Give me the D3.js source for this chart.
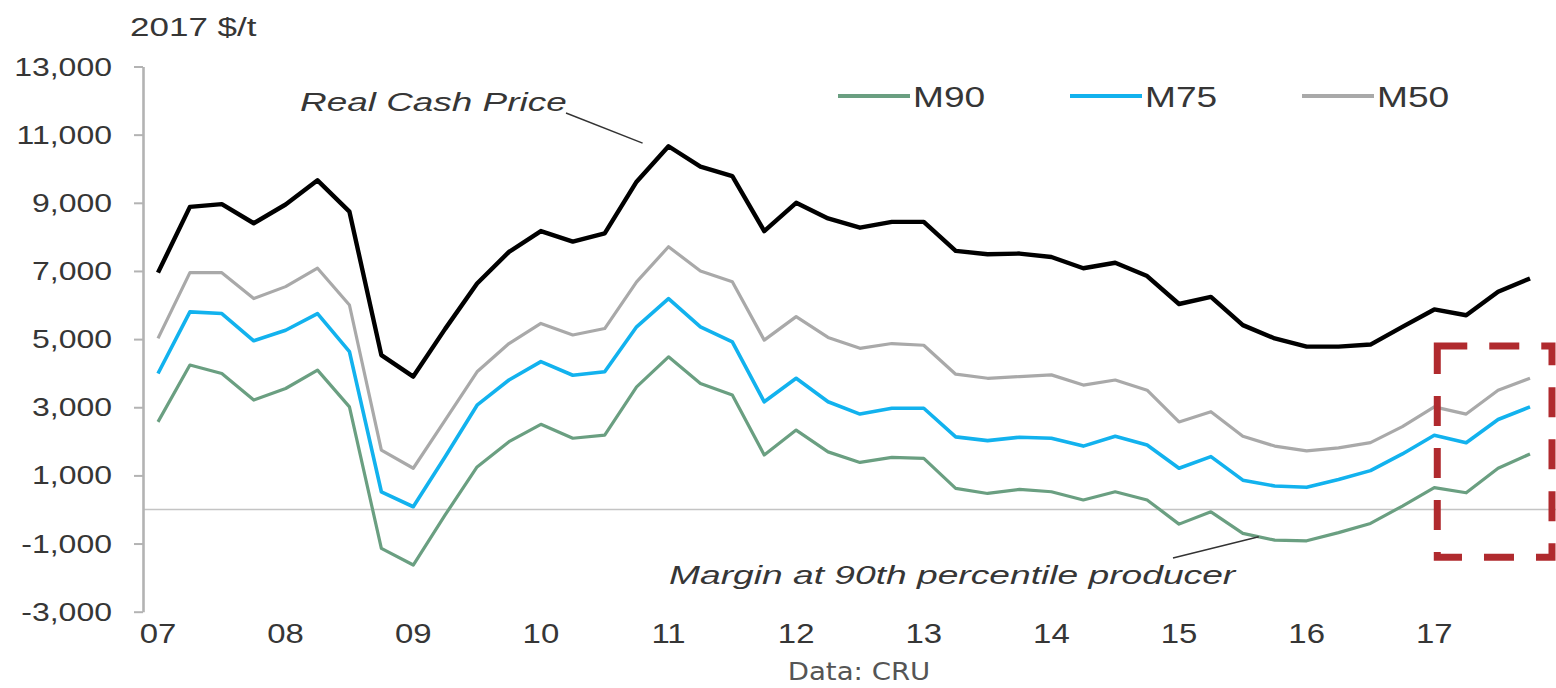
<!DOCTYPE html>
<html>
<head>
<meta charset="utf-8">
<script src="https://cdn.jsdelivr.net/npm/d3@7"></script>
<style>
  html, body { margin: 0; padding: 0; background: #fff; }
  svg { display: block; }
  text { font-family: "Liberation Sans", Arial, sans-serif; }
</style>
</head>
<body>
<svg id="chart" width="1556" height="688"></svg>
<script>
// ---------------- data ----------------
const quarters = [];
["07","08","09","10","11","12","13","14","15","16","17"].forEach(y => {
  ["Q1","Q2","Q3","Q4"].forEach(q => quarters.push(y + q));
});
const yearLabels = ["07","08","09","10","11","12","13","14","15","16","17"];
const yTicks = [-3000, -1000, 1000, 3000, 5000, 7000, 9000, 11000, 13000];

const realCashPrice = [6950, 8880, 8960, 8400, 8950, 9660, 8740, 4530, 3900, 5300, 6630, 7560,
  8170, 7860, 8100, 9620, 10660, 10060, 9780, 8170, 9000, 8540, 8270, 8440,
  8440, 7590, 7490, 7510, 7410, 7080, 7240, 6850, 6030, 6240, 5410, 5020,
  4780, 4780, 4840, 5360, 5870, 5700, 6390, 6780];
const m50 = [5020, 6950, 6950, 6190, 6540, 7080, 6000, 1740, 1210, 2620, 4040, 4870,
  5460, 5120, 5310, 6680, 7710, 7000, 6680, 4970, 5660, 5050, 4730, 4870,
  4820, 3970, 3850, 3900, 3950, 3650, 3800, 3500, 2570, 2870, 2150, 1860,
  1720, 1810, 1960, 2430, 3010, 2800, 3500, 3850];
const m75 = [3990, 5800, 5750, 4950, 5260, 5750, 4630, 520, 80, 1550, 3060, 3800,
  4340, 3940, 4040, 5360, 6190, 5360, 4920, 3160, 3850, 3160, 2800, 2970,
  2970, 2130, 2020, 2120, 2090, 1860, 2150, 1890, 1210, 1550, 860, 690,
  650, 880, 1140, 1630, 2180, 1960, 2640, 3010];
const m90 = [2570, 4240, 3990, 3210, 3550, 4090, 3010, -1140, -1630, -160, 1250, 1990,
  2500, 2090, 2180, 3600, 4480, 3700, 3360, 1600, 2330, 1690, 1380, 1530,
  1500, 620, 470, 590, 520, 280, 520, 280, -430, -70, -700, -900,
  -920, -680, -410, 100, 640, 490, 1210, 1630];

const legendNames = ["M90", "M75", "M50"];
const legendColors = ["#6a9f81", "#12b2ee", "#a9a9a9"];

// ---------------- scales ----------------
const svg = d3.select("#chart");
const x = d3.scalePoint().domain(quarters).range([158, 1530]);
const y = d3.scaleLinear().domain([-3000, 13000]).range([611.7, 66.5]);

const textCol = "#363636";

function stretchText(sel, px, py, str, opts) {
  const o = Object.assign({size: 25, sx: 1.28, anchor: "start", style: "normal", fill: textCol, family: null}, opts || {});
  const t = sel.append("text")
    .attr("transform", `translate(${px},${py}) scale(${o.sx},1)`)
    .attr("text-anchor", o.anchor)
    .attr("font-size", o.size)
    .attr("font-style", o.style)
    .attr("fill", o.fill)
    .text(str);
  if (o.family) t.style("font-family", o.family);
  return t;
}

// ---------------- zero line ----------------
svg.append("line")
  .attr("x1", 143).attr("x2", 1556)
  .attr("y1", y(0)).attr("y2", y(0))
  .attr("stroke", "#c4c4c4").attr("stroke-width", 1.6);

// ---------------- y axis ----------------
const yAxis = svg.append("g").attr("transform", "translate(143,0)")
  .call(d3.axisLeft(y).tickValues(yTicks).tickSize(9).tickSizeOuter(0).tickFormat(""));
yAxis.select(".domain").attr("stroke", "#b3b3b3").attr("stroke-width", 2.6);
yAxis.selectAll(".tick line").attr("stroke", "#b3b3b3").attr("stroke-width", 2);

const fmt = d3.format(",");
yTicks.forEach(v => {
  stretchText(svg, 112, y(v) + 9, fmt(v).replace("\u2212", "-"), {anchor: "end", size: 25, sx: 1.28});
});

// x labels
yearLabels.forEach(lbl => {
  stretchText(svg, x(lbl + "Q1"), 643, lbl, {anchor: "middle", size: 27, sx: 1.22});
});

// axis unit title
stretchText(svg, 130, 36, "2017 $/t", {size: 25, sx: 1.4});

// source
stretchText(svg, 859, 680, "Data: CRU", {anchor: "middle", size: 24, sx: 1.15, fill: "#555", family: "'DejaVu Sans', sans-serif"});

// ---------------- lines ----------------
const line = d3.line().x((d, i) => x(quarters[i])).y(d => y(d));
const series = [
  {values: m90, color: legendColors[0], width: 3.2},
  {values: m75, color: legendColors[1], width: 3.6},
  {values: m50, color: legendColors[2], width: 3.2},
  {values: realCashPrice, color: "#000", width: 4.4}
];
series.forEach(s => {
  svg.append("path").datum(s.values)
    .attr("d", line)
    .attr("fill", "none")
    .attr("stroke", s.color)
    .attr("stroke-width", s.width)
    .attr("stroke-linejoin", "round");
});

// ---------------- legend ----------------
const legendX = [838, 1070, 1302];
legendNames.forEach((n, i) => {
  svg.append("line")
    .attr("x1", legendX[i]).attr("x2", legendX[i] + 72)
    .attr("y1", 96).attr("y2", 96)
    .attr("stroke", legendColors[i]).attr("stroke-width", 4);
  stretchText(svg, legendX[i] + 75, 107, n, {size: 29, sx: 1.28});
});

// ---------------- annotations ----------------
stretchText(svg, 300, 111, "Real Cash Price", {size: 26, sx: 1.42, style: "italic"});
svg.append("line")
  .attr("x1", 566).attr("y1", 113)
  .attr("x2", x(quarters[15]) + 6).attr("y2", y(10750))
  .attr("stroke", "#333").attr("stroke-width", 1.4);

stretchText(svg, 669, 584, "Margin at 90th percentile producer", {size: 26, sx: 1.43, style: "italic"});
svg.append("line")
  .attr("x1", 1173).attr("y1", 558)
  .attr("x2", (x(quarters[34]) + x(quarters[35])) / 2).attr("y2", y(-800))
  .attr("stroke", "#333").attr("stroke-width", 1.4);

// red dashed box
svg.append("rect")
  .attr("x", x(quarters[40]) + 3)
  .attr("y", y(4800))
  .attr("width", 1552 - (x(quarters[40]) + 3))
  .attr("height", y(-1400) - y(4800))
  .attr("fill", "none")
  .attr("stroke", "#b02a2e")
  .attr("stroke-width", 7)
  .attr("stroke-dasharray", "30,22");
</script>
</body>
</html>
